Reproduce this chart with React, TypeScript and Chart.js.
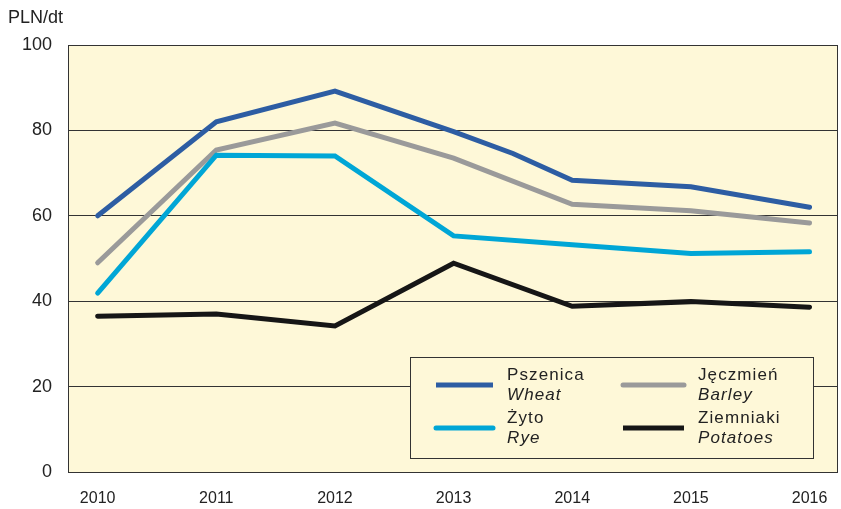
import React, { useEffect, useRef } from "react";
import { Chart, registerables } from "chart.js";

Chart.register(...registerables);

const years = [2010, 2011, 2012, 2013, 2014, 2015, 2016];
const wheatX = [2010, 2011, 2012, 2013, 2013.5, 2014, 2015, 2016];
const wheat = [60.0, 82.0, 89.2, 79.7, 74.6, 68.3, 66.8, 62.0];
const barley = [49.0, 75.4, 81.7, 73.5, 62.7, 61.2, 58.3];
const rye = [41.9, 74.2, 74.0, 55.3, 53.2, 51.2, 51.6];
const potatoes = [36.5, 37.0, 34.2, 48.9, 38.8, 39.9, 38.6];
const yTicks = [0, 20, 40, 60, 80, 100];
const unitLabel = "PLN/dt";
const seriesPl = ["Pszenica", "Jęczmień", "Żyto", "Ziemniaki"];
const seriesEn = ["Wheat", "Barley", "Rye", "Potatoes"];
const colors = ["#2d5da3", "#9a9a9a", "#00a6d6", "#161616"];
const BG = "#fef8d8";

const pts = (xs: number[], ys: number[]) => ys.map((y, i) => ({ x: xs[i], y }));

const framePlugin = {
  id: "frame",
  beforeDraw(chart: any) {
    const { ctx, chartArea: a } = chart;
    ctx.save();
    ctx.fillStyle = BG;
    ctx.fillRect(a.left, a.top, a.right - a.left, a.bottom - a.top);
    ctx.restore();
  },
  beforeDatasetsDraw(chart: any) {
    const { ctx, chartArea: a } = chart;
    ctx.save();
    ctx.strokeStyle = "#333";
    ctx.lineWidth = 1;
    ctx.strokeRect(Math.round(a.left) + 0.5, Math.round(a.top) + 0.5, Math.round(a.right - a.left) - 1, Math.round(a.bottom - a.top));
    ctx.restore();
  },
  afterDraw(chart: any) {
    const { ctx, chartArea: a } = chart;
    ctx.save();
    ctx.fillStyle = "#222";
    ctx.font = "18px 'Liberation Sans', Arial, sans-serif";
    ctx.textBaseline = "middle";
    ctx.textAlign = "left";
    ctx.fillText(unitLabel, a.left - 60, a.top - 27);

    // legend
    const L = a.right - 428;
    const T = a.top + 312;
    const W = 403;
    const H = 101;
    ctx.fillStyle = BG;
    ctx.fillRect(L, T, W, H);
    ctx.strokeStyle = "#333";
    ctx.lineWidth = 1;
    ctx.strokeRect(Math.round(L) + 0.5, Math.round(T) + 0.5, W, H);
    const cols = [
      { s0: 26, s1: 83, t: 97 },
      { s0: 213, s1: 274, t: 288 },
    ];
    const rows = [
      { ly: 28, t1: 18, t2: 38 },
      { ly: 71, t1: 61, t2: 81 },
    ];
    (ctx as any).letterSpacing = "1.1px";
    for (let i = 0; i < 4; i++) {
      const c = cols[i % 2];
      const r = rows[Math.floor(i / 2)];
      ctx.strokeStyle = colors[i];
      ctx.lineWidth = 5;
      ctx.lineCap = i === 1 || i === 2 ? "round" : "butt";
      ctx.beginPath();
      ctx.moveTo(L + c.s0, T + r.ly);
      ctx.lineTo(L + c.s1, T + r.ly);
      ctx.stroke();
      ctx.fillStyle = "#222";
      ctx.font = "17px 'Liberation Sans', Arial, sans-serif";
      ctx.fillText(seriesPl[i], L + c.t, T + r.t1);
      ctx.font = "italic 17px 'Liberation Sans', Arial, sans-serif";
      ctx.fillText(seriesEn[i], L + c.t, T + r.t2);
    }
    (ctx as any).letterSpacing = "0px";
    ctx.restore();
  },
};

export default function App() {
  const ref = useRef<HTMLCanvasElement | null>(null);
  useEffect(() => {
    document.body.style.margin = "0";
    const mk = (label: string, data: any, color: string) => ({
      label,
      data,
      borderColor: color,
      backgroundColor: color,
      borderWidth: 5,
      pointRadius: 0,
      tension: 0,
      borderCapStyle: "round" as const,
      borderJoinStyle: "miter" as const,
      fill: false,
    });
    const chart = new Chart(ref.current as HTMLCanvasElement, {
      type: "line",
      data: {
        datasets: [
          mk(seriesEn[3], pts(years, potatoes), colors[3]),
          mk(seriesEn[2], pts(years, rye), colors[2]),
          mk(seriesEn[1], pts(years, barley), colors[1]),
          mk(seriesEn[0], pts(wheatX, wheat), colors[0]),
        ],
      },
      options: {
        animation: false,
        responsive: false,
        devicePixelRatio: 1,
        layout: { padding: { top: 45, right: 3, left: 0, bottom: 0 } },
        plugins: { legend: { display: false }, tooltip: { enabled: false }, title: { display: false } },
        scales: {
          x: {
            type: "linear",
            min: years[0] - 0.25,
            max: years[years.length - 1] + 0.24,
            afterBuildTicks: (s: any) => {
              s.ticks = years.map((v) => ({ value: v }));
            },
            afterFit: (s: any) => {
              s.height = 37;
              s.paddingRight = 0;
              s.paddingLeft = 0;
            },
            grid: { display: false, drawTicks: false },
            border: { display: false },
            ticks: {
              padding: 17,
              color: "#222",
              font: { family: "'Liberation Sans Narrow', 'Liberation Sans', Arial, sans-serif", size: 16 },
              callback: (v: any) => String(v),
              maxRotation: 0,
              autoSkip: false,
            },
          },
          y: {
            min: 0,
            max: 100,
            afterBuildTicks: (s: any) => {
              s.ticks = yTicks.map((v) => ({ value: v }));
            },
            afterFit: (s: any) => {
              s.width = 68;
            },
            grid: { color: "#333", lineWidth: 1, drawTicks: false },
            border: { display: false },
            ticks: {
              padding: 16,
              color: "#222",
              font: { family: "'Liberation Sans', Arial, sans-serif", size: 18 },
            },
          },
        },
      },
      plugins: [framePlugin],
    });
    return () => chart.destroy();
  }, []);
  return (
    <div style={{ width: 841, height: 509, position: "relative" }}>
      <canvas ref={ref} width={841} height={509} style={{ display: "block" }} />
    </div>
  );
}
